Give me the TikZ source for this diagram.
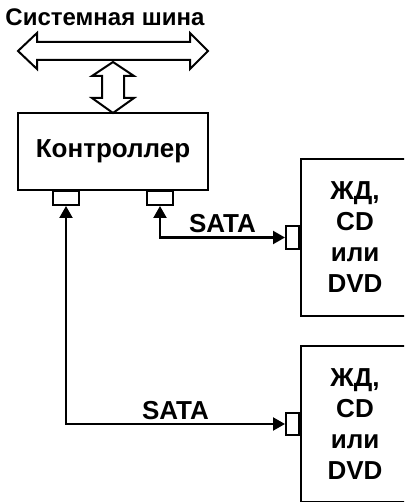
\documentclass[tikz,border=0pt]{standalone}
\usepackage{fontspec}
\setmainfont{Liberation Sans}
\usetikzlibrary{arrows.meta,positioning}

\tikzset{
  box/.style={draw, line width=2pt, inner sep=0pt},
  port/.style={draw, line width=2pt, fill=white, inner sep=0pt},
  link/.style={line width=2.2pt, {Triangle[length=12pt,width=13pt]}-{Triangle[length=12pt,width=13pt]}},
  hollow/.style={draw, line width=2pt, line join=miter, fill=white},
}

\begin{document}
\begin{tikzpicture}[x=1pt, y=-1pt, every node/.style={font=\bfseries\fontsize{26}{31}\selectfont}]
        \path[clip] (0,0) rectangle (404,502);

        % System bus
        \node[font=\bfseries\fontsize{24}{28}\selectfont] (bus) at (105,17) {Системная шина};
        \draw[hollow] (18,51) -- (37,33) -- (37,42) -- (190,42) -- (190,33) -- (208,51) -- (190,69) -- (190,60) -- (37,60) -- (37,69) -- cycle;
        \draw[hollow] (113,62) -- (134,76) -- (124,76) -- (124,98) -- (134,98) -- (113,113) -- (92,98) -- (102,98) -- (102,76) -- (92,76) -- cycle;

        % Controller
        \node[box, minimum width=190, minimum height=77] (ctrl) at (113,151.5) {Контроллер};
        \node[port, minimum width=26, minimum height=14, anchor=north] (portL) at (66,190) {};
        \node[port, minimum width=26, minimum height=14, anchor=north] (portR) at (160,190) {};

        % Drives
        \node[box, minimum width=108, minimum height=156, align=center] (drive1) at (355,237.5) {ЖД,\\CD\\или\\DVD};
        \node[box, minimum width=108, minimum height=156, align=center] (drive2) at (355,424) {ЖД,\\CD\\или\\DVD};
        \node[port, minimum width=13, minimum height=22, anchor=east] (port1) at (drive1.west) {};
        \node[port, minimum width=13, minimum height=22, anchor=east] (port2) at (drive2.west) {};

        % Connections
        \draw[link] (portR.south) |- (port1.west) node[pos=0.75, above] {SATA};
        \draw[link] (portL.south) |- (port2.west) node[pos=0.75, above] {SATA};
\end{tikzpicture}
\end{document}
